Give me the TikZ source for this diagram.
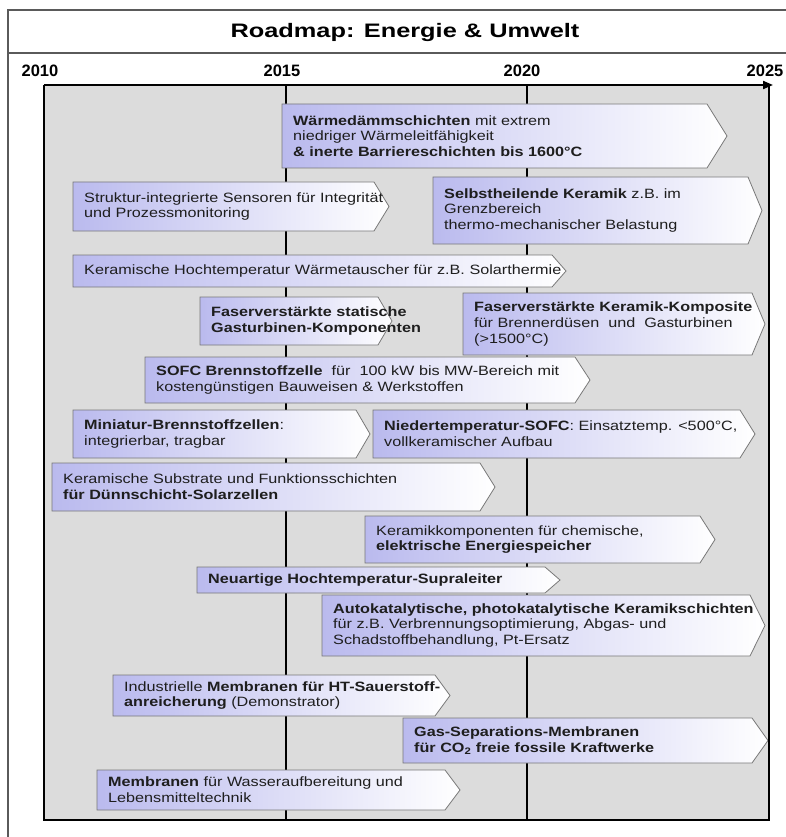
\documentclass[tikz,border=0pt]{standalone}
\usepackage{fontspec}
\setmainfont{Liberation Sans}
\newfontfamily\bodyfont{Liberation Sans}[FakeStretch=1.2]
\newfontfamily\headfont{Liberation Sans}[FakeStretch=1.3]
\usetikzlibrary{arrows.meta}

\definecolor{panelgray}{RGB}{220,220,220}
\definecolor{boxlav}{RGB}{186,186,238}
\definecolor{boxedge}{RGB}{120,120,120}
\definecolor{inktext}{RGB}{30,30,30}
\definecolor{framegray}{RGB}{90,90,90}

\tikzset{
  boxshape/.style={draw=boxedge, line width=0.8pt, left color=boxlav,
                   middle color=boxlav!18!white, right color=white},
  boxtext/.style={anchor=west, inner sep=0pt, align=left, text=inktext,
                  font={\bodyfont\fontsize{13.5}{15.8}\selectfont}},
  timeline/.style={line width=2pt, black},
  yearlabel/.style={inner sep=0pt, font={\bfseries\fontsize{16.5}{18}\selectfont}},
  framerule/.style={framegray, line width=1.2pt},
}

% chevron box: name, left x, top y, body right x, tip x, bottom y, text
\newcommand\roadbox[7]{%
  \path[boxshape] (#2,#3) -- (#4,#3) -- (#5,{(#3+#6)/2}) -- (#4,#6) -- (#2,#6) -- cycle;
  \node[boxtext] (#1) at ({#2+11},{(#3+#6)/2}) {#7};
}

\begin{document}
\begin{tikzpicture}[x=1pt,y=-1pt]
\useasboundingbox (0,0) rectangle (786,837);

% outer frame and title row
\draw[framerule] (8,837) -- (8,10) -- (786,10);
\draw[framerule] (8,53) -- (786,53);
\node[font={\headfont\bfseries\fontsize{19.5}{22}\selectfont}] (title) at (405,33)
  {Roadmap: Energie \& Umwelt};

% year labels
\node[yearlabel] (y2010) at (40,71) {2010};
\node[yearlabel] (y2015) at (282,71) {2015};
\node[yearlabel] (y2020) at (522,71) {2020};
\node[yearlabel] (y2025) at (765,71) {2025};

% time panel and year rules
\fill[panelgray] (44,85) rectangle (769,820);
\draw[timeline] (286,85) -- (286,820);
\draw[timeline] (527,85) -- (527,820);

% roadmap items
\roadbox{daemm}{282}{104}{707}{727}{168}{\textbf{Wärmedämmschichten} mit extrem\\niedriger Wärmeleitfähigkeit\\\textbf{\& inerte Barriereschichten bis 1600°C}}
\roadbox{sensor}{73}{182}{374}{389}{231}{Struktur-integrierte Sensoren für Integrität\\und Prozessmonitoring}
\roadbox{selbst}{433}{177}{748}{762}{244}{\textbf{Selbstheilende Keramik} z.B. im\\Grenzbereich\\thermo-mechanischer Belastung}
\roadbox{tauscher}{73}{255}{552}{566}{287}{Keramische Hochtemperatur Wärmetauscher für z.B. Solarthermie}
\roadbox{faserstat}{200}{297}{378}{392}{345}{\textbf{Faserverstärkte statische}\\\textbf{Gasturbinen-Komponenten}}
\roadbox{faserkomp}{463}{293}{752}{765}{355}{\textbf{Faserverstärkte Keramik-Komposite}\\für Brennerdüsen\ \ und\ \ Gasturbinen\\(>1500°C)}
\roadbox{sofc}{145}{357}{575}{590}{403}{\textbf{SOFC Brennstoffzelle}\ \ für\ \ 100 kW bis MW-Bereich mit\\kostengünstigen Bauweisen \& Werkstoffen}
\roadbox{mini}{73}{410}{356}{370}{458}{\textbf{Miniatur-Brennstoffzellen}:\\integrierbar, tragbar}
\roadbox{nieder}{373}{410}{740}{755}{458}{\textbf{Niedertemperatur-SOFC}: Einsatztemp. <500°C,\\vollkeramischer Aufbau}
\roadbox{substrat}{52}{463}{480}{495}{511}{Keramische Substrate und Funktionsschichten\\\textbf{für Dünnschicht-Solarzellen}}
\roadbox{speicher}{365}{516}{700}{715}{563}{Keramikkomponenten für chemische,\\\textbf{elektrische Energiespeicher}}
\roadbox{supra}{197}{567}{545}{560}{593}{\textbf{Neuartige Hochtemperatur-Supraleiter}}
\roadbox{autokat}{322}{595}{750}{765}{656}{\textbf{Autokatalytische, photokatalytische Keramikschichten}\\für z.B. Verbrennungsoptimierung, Abgas- und\\Schadstoffbehandlung, Pt-Ersatz}
\roadbox{sauerstoff}{113}{675}{435}{450}{716}{Industrielle \textbf{Membranen für HT-Sauerstoff-}\\\textbf{anreicherung} (Demonstrator)}
\roadbox{gassep}{403}{718}{752}{768}{763}{\textbf{Gas-Separations-Membranen}\\\textbf{für CO\textsubscript{2} freie fossile Kraftwerke}}
\roadbox{wasser}{97}{770}{445}{460}{810}{\textbf{Membranen} für Wasseraufbereitung und\\Lebensmitteltechnik}

% panel border with time arrow on top
\draw[timeline] (769,85) -- (769,820) -- (44,820) -- (44,85);
\draw[timeline, -{Triangle[length=10pt,width=8pt]}] (44,85) -- (773,85);
\end{tikzpicture}
\end{document}
